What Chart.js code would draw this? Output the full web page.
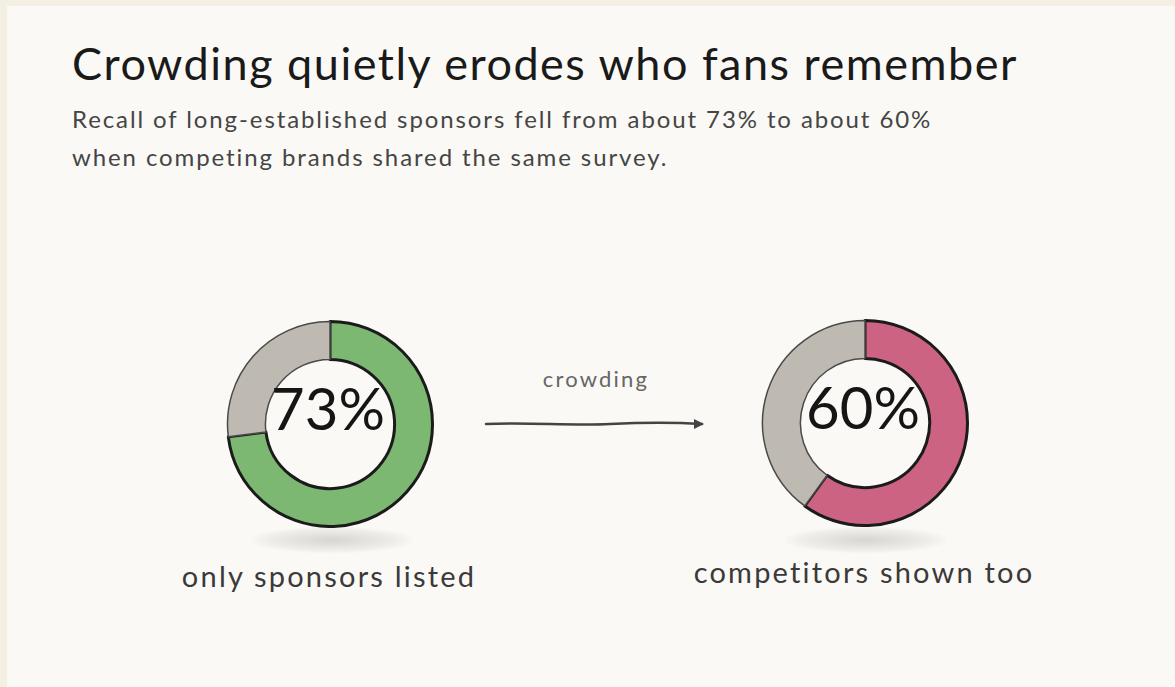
<!DOCTYPE html>
<html>
<head>
<meta charset="utf-8">
<script src="https://cdn.jsdelivr.net/npm/chart.js@4.4.1/dist/chart.umd.min.js"></script>
<style>
  html, body { margin: 0; padding: 0; }
  body {
    width: 1175px; height: 687px; overflow: hidden;
    background: #f3efe2;
    font-family: "Lato", "Open Sans", sans-serif;
  }
  #card {
    position: absolute; left: 7px; top: 6px; right: 0; bottom: 0;
    background: #faf9f5;
  }
  .abs { position: absolute; white-space: nowrap; }
  #title { left: 72px; top: 36px; font-size: 45px; color: #1a1a1a; font-weight: 400; letter-spacing: 1.5px; }
  #sub { left: 72px; top: 100px; font-size: 24px; color: #454545; line-height: 38px; letter-spacing: 1.9px; }
  .donut { position: absolute; }
  .shadow {
    position: absolute; width: 160px; height: 26px;
    background: radial-gradient(ellipse at center, rgba(120,120,120,0.28) 0%, rgba(150,150,150,0.12) 55%, rgba(250,249,245,0) 75%);
  }
  .label { font-size: 29px; color: #3a3a3a; text-align: center; width: 400px; letter-spacing: 2.2px; }
  #crowd { font-size: 22px; color: #666; text-align: center; width: 200px; left: 496px; top: 365px; letter-spacing: 2.2px; }
</style>
</head>
<body>
<div id="card"></div>
<div id="title" class="abs">Crowding quietly erodes who fans remember</div>
<div id="sub" class="abs">Recall of long-established sponsors fell from about 73% to about 60%<br>when competing brands shared the same survey.</div>

<div class="shadow" style="left:252px; top:527px;"></div>
<div class="shadow" style="left:786px; top:527px;"></div>

<canvas id="donutA" class="donut" width="208" height="208" style="left:226px; top:320px;"></canvas>
<canvas id="donutB" class="donut" width="208" height="208" style="left:761px; top:319px;"></canvas>

<div id="crowd" class="abs">crowding</div>
<svg class="abs" style="left:480px; top:410px;" width="235" height="28">
  <path d="M6 14 C 50 12, 90 16, 130 14 S 190 12, 222 14" stroke="#444" stroke-width="2.5" fill="none" stroke-linecap="round"/>
  <path d="M214 9 L224 14 L214 19 Z" fill="#444"/>
</svg>

<div id="labelA" class="abs label" style="left:129px; top:558px;">only sponsors listed</div>
<div id="labelB" class="abs label" style="left:664px; top:554px;">competitors shown too</div>

<script>
// données
const scenarios = ['only sponsors listed', 'competitors shown too'];
const recall = [73, 60];
const segmentLabels = ['recalled', 'not recalled'];
const mainColors = ['#7cb872', '#cc6382'];
const restColor = '#bebab1';

// texte central (pourcentage)
const centerText = {
  id: 'centerText',
  afterDraw(chart) {
    const ctx = chart.ctx;
    const arc = chart.getDatasetMeta(0).data[0];
    if (!arc) return;
    const value = chart.data.datasets[0].data[0];
    ctx.save();
    ctx.font = '400 58px "Lato", sans-serif';
    ctx.fillStyle = '#151515';
    ctx.textAlign = 'center';
    ctx.textBaseline = 'middle';
    ctx.fillText(value + '%', arc.x - 2, arc.y - 13);
    ctx.restore();
  }
};

function makeDonut(id, i) {
  const ctx = document.getElementById(id).getContext('2d');
  return new Chart(ctx, {
    type: 'doughnut',
    data: {
      labels: segmentLabels,
      datasets: [{
        data: [recall[i], 100 - recall[i]],
        backgroundColor: [mainColors[i], restColor],
        borderColor: ['#1b1b1b', '#4a4a4a'],
        borderWidth: [3, 1.5],
        borderJoinStyle: 'round'
      }]
    },
    options: {
      responsive: false,
      animation: false,
      cutout: '63%',
      layout: { padding: 0 },
      plugins: {
        legend: { display: false },
        tooltip: { enabled: false },
        title: { display: false }
      }
    },
    plugins: [centerText]
  });
}

makeDonut('donutA', 0);
makeDonut('donutB', 1);
</script>
</body>
</html>
